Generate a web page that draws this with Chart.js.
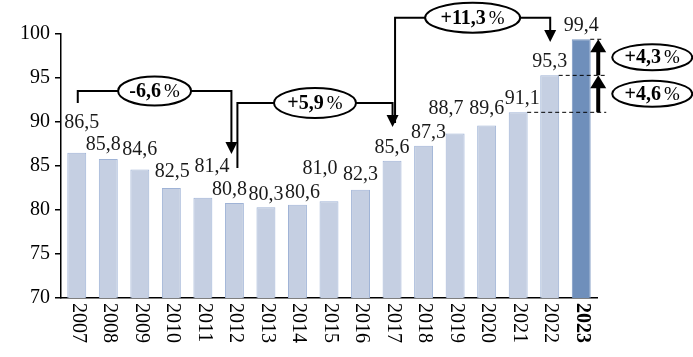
<!DOCTYPE html>
<html>
<head>
<meta charset="utf-8">
<script src="https://cdn.jsdelivr.net/npm/chart.js@4"></script>
<style>
html,body{margin:0;padding:0;background:#fff;}
#wrap{width:693px;height:357px;position:relative;}
</style>
</head>
<body>
<div id="wrap"><canvas id="c" width="693" height="357"></canvas></div>
<script>
const categories = ['2007','2008','2009','2010','2011','2012','2013','2014','2015','2016','2017','2018','2019','2020','2021','2022','2023'];
const values = [86.5, 85.8, 84.6, 82.5, 81.4, 80.8, 80.3, 80.6, 81.0, 82.3, 85.6, 87.3, 88.7, 89.6, 91.1, 95.3, 99.4];
const yTicks = [70, 75, 80, 85, 90, 95, 100];
const periodChanges = ['-6,6', '+5,9', '+11,3'];
const stepChanges = ['+4,6', '+4,3'];

const FONT = '"Liberation Serif", "Times New Roman", serif';
const fmt = v => v.toFixed(1).replace('.', ',');

// label placement (layout only): [dx, gap above bar top to text center]
const labelPlace = [[5,30],[-5,14],[0,20],[1,16],[9,31],[-5,13],[0,13],[5,12],[-9,32],[0,15],[0,13],[5,13],[-9,25],[0,17],[4,14],[0,14],[0,14]];

// bracket annotations (layout): from/to category index, levels in axis units
const brackets = [
  {from:0, to:5, dx0:1, dx1:-3, startV:92.16, levelV:93.52, tipV:86.36, w:73, h:29},
  {from:5, to:10, dx0:3, dx1:0.5, startV:84.77, levelV:92.16, tipV:89.43, w:82, h:30},
  {from:10, to:15, dx0:3, dx1:0.5, startV:89.9, levelV:101.85, tipV:99.09, w:95, h:30}
];

function arrowDown(ctx, x, tip, w, h){
  ctx.beginPath();
  ctx.moveTo(x - w/2, tip - h);
  ctx.lineTo(x + w/2, tip - h);
  ctx.lineTo(x, tip);
  ctx.closePath();
  ctx.fill();
}
function arrowUp(ctx, x, tip, w, h){
  ctx.beginPath();
  ctx.moveTo(x - w/2, tip + h);
  ctx.lineTo(x + w/2, tip + h);
  ctx.lineTo(x, tip);
  ctx.closePath();
  ctx.fill();
}
function ovalLabel(ctx, cx, cy, w, h, num){
  ctx.save();
  ctx.beginPath();
  ctx.ellipse(cx, cy, w/2, h/2, 0, 0, Math.PI*2);
  ctx.fillStyle = '#fff';
  ctx.fill();
  ctx.lineWidth = 2;
  ctx.strokeStyle = '#000';
  ctx.stroke();
  ctx.fillStyle = '#000';
  ctx.textBaseline = 'middle';
  ctx.font = 'bold 20px ' + FONT;
  const w1 = ctx.measureText(num).width;
  ctx.font = '19px ' + FONT;
  const w2 = ctx.measureText('%').width;
  const gap = 3;
  const total = w1 + gap + w2;
  let x = cx - total/2;
  ctx.textAlign = 'left';
  ctx.font = 'bold 20px ' + FONT;
  ctx.fillText(num, x, cy + 1);
  ctx.font = '19px ' + FONT;
  ctx.fillText('%', x + w1 + gap, cy + 1);
  ctx.restore();
}

const drawPlugin = {
  id: 'customDraw',
  afterDatasetsDraw(chart){
    const ctx = chart.ctx;
    const xs = chart.scales.x, ys = chart.scales.y;
    const meta = chart.getDatasetMeta(0);
    ctx.save();
    // value labels
    ctx.fillStyle = '#1a1a1a';
    ctx.font = '20px ' + FONT;
    ctx.textAlign = 'center';
    ctx.textBaseline = 'middle';
    values.forEach((v, i) => {
      const el = meta.data[i];
      const p = labelPlace[i];
      ctx.fillText(fmt(v), el.x + p[0], el.y - p[1]);
    });
    // rotated x labels
    categories.forEach((c, i) => {
      const x = xs.getPixelForValue(i);
      ctx.save();
      ctx.translate(x + 1, xs.top + 5);
      ctx.rotate(Math.PI/2);
      ctx.textAlign = 'left';
      ctx.textBaseline = 'middle';
      ctx.fillStyle = '#000';
      ctx.font = (i === categories.length - 1 ? 'bold ' : '') + '20px ' + FONT;
      ctx.fillText(c, 0, 0);
      ctx.restore();
    });
    // brackets
    ctx.strokeStyle = '#000';
    ctx.fillStyle = '#000';
    ctx.lineWidth = 2;
    brackets.forEach((b, k) => {
      const x0 = xs.getPixelForValue(b.from) + b.dx0;
      const x1 = xs.getPixelForValue(b.to) + b.dx1;
      const yS = ys.getPixelForValue(b.startV);
      const yL = ys.getPixelForValue(b.levelV);
      const yT = ys.getPixelForValue(b.tipV);
      ctx.beginPath();
      ctx.moveTo(x0, yS);
      ctx.lineTo(x0, yL);
      ctx.lineTo(x1, yL);
      ctx.lineTo(x1, yT - 10);
      ctx.stroke();
      arrowDown(ctx, x1, yT, 12, 12);
      ovalLabel(ctx, (x0 + x1)/2, yL, b.w, b.h, periodChanges[k]);
    });
    // step arrows at last bar
    const n = values.length;
    const eLast = meta.data[n-1];
    const ax = eLast.x + 17;
    const yA = ys.getPixelForValue(values[n-3]);
    const yB = ys.getPixelForValue(values[n-2]);
    const yC = ys.getPixelForValue(values[n-1]);
    ctx.lineWidth = 1;
    ctx.setLineDash([4, 3]);
    ctx.beginPath();
    ctx.moveTo(meta.data[n-3].x + 9, yA); ctx.lineTo(ax + 8, yA);
    ctx.moveTo(meta.data[n-2].x + 9, yB); ctx.lineTo(ax + 8, yB);
    ctx.moveTo(ax - 8, yC); ctx.lineTo(ax + 6, yC);
    ctx.stroke();
    ctx.setLineDash([]);
    ctx.lineWidth = 4;
    ctx.beginPath();
    ctx.moveTo(ax, yA); ctx.lineTo(ax, yB + 8);
    ctx.moveTo(ax, yB); ctx.lineTo(ax, yC + 8);
    ctx.stroke();
    arrowUp(ctx, ax, yB, 16, 13);
    arrowUp(ctx, ax, yC, 16, 13);
    const ox = ax + 54;
    ovalLabel(ctx, ox, (yA + yB)/2, 80, 26, stepChanges[0]);
    ovalLabel(ctx, ox, (yB + yC)/2, 80, 26, stepChanges[1]);
    ctx.restore();
  }
};

new Chart(document.getElementById('c'), {
  type: 'bar',
  data: {
    labels: categories,
    datasets: [{
      data: values,
      backgroundColor: values.map((v, i) => i === values.length - 1 ? '#6f8fbb' : '#c5cfe2'),
      borderColor: values.map((v, i) => i === values.length - 1 ? '#7d99c2' : '#9fb3d6'),
      borderWidth: 1,
      barPercentage: 0.6,
      categoryPercentage: 1.0
    }]
  },
  options: {
    responsive: false,
    animation: false,
    devicePixelRatio: 1,
    layout: { padding: { top: 34, right: 96, left: 0, bottom: 0 } },
    plugins: { legend: { display: false }, tooltip: { enabled: false } },
    scales: {
      x: {
        offset: true,
        grid: { display: false },
        border: { display: true, color: '#000', width: 1.5 },
        ticks: { display: false },
        afterFit: s => { s.height = 59; }
      },
      y: {
        min: 70, max: 100,
        afterBuildTicks: s => { s.ticks = yTicks.map(v => ({ value: v })); },
        grid: { display: true, drawOnChartArea: false, drawTicks: true, tickLength: 6, color: '#000', lineWidth: 1.5 },
        border: { display: true, color: '#000', width: 1.5 },
        ticks: { color: '#000', padding: 5, font: { family: FONT, size: 20 } },
        afterFit: s => { s.width = 61; }
      }
    }
  },
  plugins: [drawPlugin]
});
</script>
</body>
</html>
